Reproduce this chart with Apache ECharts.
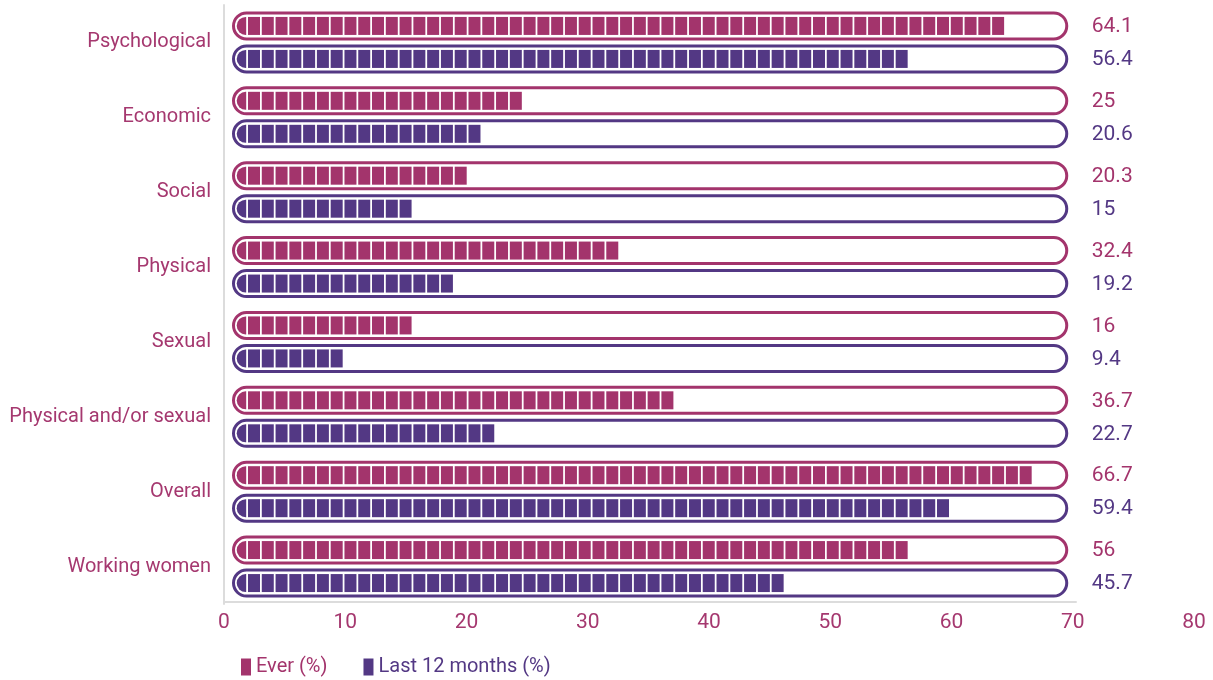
<!DOCTYPE html>
<html>
<head>
<meta charset="utf-8">
<style>
  html, body { margin: 0; padding: 0; background: #ffffff; }
  #chart { width: 1213px; height: 680px; }
</style>
<script src="https://cdn.jsdelivr.net/npm/echarts/dist/echarts.min.js"></script>
</head>
<body>
<div id="chart"></div>
<script>
// Forms of violence, share of women (%)
const categories = [
  'Psychological', 'Economic', 'Social', 'Physical', 'Sexual',
  'Physical and/or sexual', 'Overall', 'Working women'
];
const everValues = [64.1, 25, 20.3, 32.4, 16, 36.7, 66.7, 56];
const last12Values = [56.4, 20.6, 15, 19.2, 9.4, 22.7, 59.4, 45.7];
const xTicks = [0, 10, 20, 30, 40, 50, 60, 70, 80];
const seriesNames = ['Ever (%)', 'Last 12 months (%)'];

const EVER_COLOR = '#a3346c';
const LAST_COLOR = '#533884';
const LABEL_COLOR = '#a5386f';
const FONT = 'Roboto, "Noto Sans", sans-serif';
const TRACK_END = 70;

// Draws one capsule track with a row of square blocks filled up to the value
function makeRenderer(color, offsetY) {
  return function (params, api) {
    const v = api.value(0);
    const ci = api.value(1);
    const p0 = api.coord([0, ci]);
    const pv = api.coord([v, ci]);
    const pEnd = api.coord([TRACK_END, ci]);
    const yc = p0[1] + offsetY;

    const children = [];
    const trackX = p0[0] + 9.5;
    const trackW = (pEnd[0] - 6) - trackX;
    children.push({
      type: 'rect',
      shape: { x: trackX, y: yc - 13, width: trackW, height: 26, r: 13 },
      style: { fill: '#ffffff', stroke: color, lineWidth: 3 }
    });
    // rounded cap at the start of the bar
    children.push({
      type: 'rect',
      shape: { x: p0[0] + 12.7, y: yc - 9, width: 9.5, height: 18, r: [9, 0, 0, 9] },
      style: { fill: color }
    });
    const start = p0[0] + 24;
    const period = 13.78;
    const w = 12;
    const n = Math.max(0, Math.round((pv[0] - start + (period - w)) / period));
    for (let k = 0; k < n; k++) {
      children.push({
        type: 'rect',
        shape: { x: start + k * period, y: yc - 9, width: w, height: 18 },
        style: { fill: color }
      });
    }
    children.push({
      type: 'text',
      x: pEnd[0] + 19,
      y: yc + 1,
      style: {
        text: String(v),
        fill: color,
        font: '21px ' + FONT,
        align: 'left',
        verticalAlign: 'middle'
      }
    });
    return { type: 'group', children: children };
  };
}

const chart = echarts.init(document.getElementById('chart'), null, { renderer: 'canvas' });

chart.setOption({
  animation: false,
  backgroundColor: '#ffffff',
  textStyle: { fontFamily: FONT },
  legend: {
    left: 236,
    top: 652,
    icon: 'rect',
    itemWidth: 10,
    itemHeight: 17,
    itemGap: 36,
    data: [
      { name: seriesNames[0], textStyle: { color: EVER_COLOR } },
      { name: seriesNames[1], textStyle: { color: LAST_COLOR } }
    ],
    textStyle: { fontSize: 20, fontFamily: FONT }
  },
  grid: [
    { left: 224, right: 19, top: 5, bottom: 76, containLabel: false },
    { left: 224, width: 852, top: 5, bottom: 78, containLabel: false }
  ],
  xAxis: [
    {
      type: 'value',
      gridIndex: 0,
      min: xTicks[0],
      max: xTicks[xTicks.length - 1],
      interval: 10,
      splitLine: { show: false },
      axisLine: { show: false },
      axisTick: { show: false },
      axisLabel: {
        color: LABEL_COLOR,
        fontSize: 21,
        fontFamily: FONT,
        margin: 8
      }
    },
    {
      type: 'value',
      gridIndex: 1,
      min: 0,
      max: TRACK_END,
      splitLine: { show: false },
      axisLine: { show: true, lineStyle: { color: '#dcdcdc', width: 2 } },
      axisTick: { show: false },
      axisLabel: { show: false }
    }
  ],
  yAxis: [
    {
      type: 'category',
      gridIndex: 0,
      data: categories,
      inverse: true,
      axisLine: { show: true, lineStyle: { color: '#dcdcdc', width: 2 } },
      axisTick: { show: false },
      axisLabel: {
        color: LABEL_COLOR,
        fontSize: 20,
        fontFamily: FONT,
        margin: 13
      }
    },
    {
      type: 'category',
      gridIndex: 1,
      data: categories,
      inverse: true,
      show: false
    }
  ],
  series: [
    {
      name: seriesNames[0],
      type: 'custom',
      xAxisIndex: 0,
      yAxisIndex: 0,
      itemStyle: { color: EVER_COLOR },
      renderItem: makeRenderer(EVER_COLOR, -16.5),
      encode: { x: 0, y: 1 },
      data: everValues.map((v, i) => [v, i])
    },
    {
      name: seriesNames[1],
      type: 'custom',
      xAxisIndex: 0,
      yAxisIndex: 0,
      itemStyle: { color: LAST_COLOR },
      renderItem: makeRenderer(LAST_COLOR, 16.5),
      encode: { x: 0, y: 1 },
      data: last12Values.map((v, i) => [v, i])
    }
  ]
});
</script>
</body>
</html>
